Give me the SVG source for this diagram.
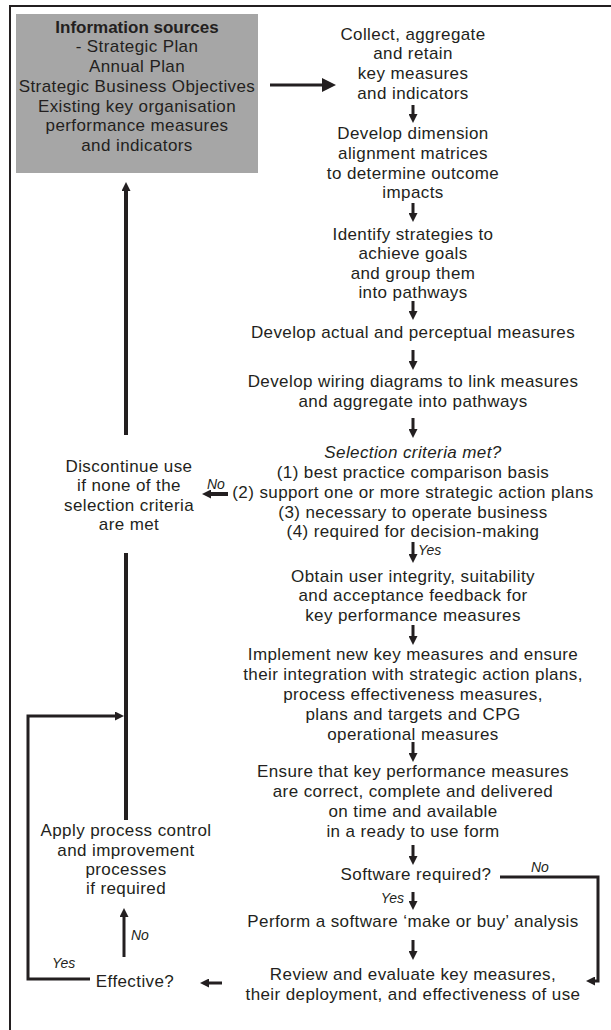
<svg xmlns="http://www.w3.org/2000/svg" width="611" height="1030" viewBox="0 0 611 1030">
<style>
text{font-family:"Liberation Sans",Arial,sans-serif;font-size:17px;letter-spacing:0.4px;fill:#231f20;text-anchor:middle}
.b{font-weight:bold;letter-spacing:0}
.i{font-style:italic}
.lbl{font-style:italic;font-size:14px;letter-spacing:0;text-anchor:start}
.lbe{font-style:italic;font-size:14px;letter-spacing:0;text-anchor:end}
.ln{fill:none;stroke:#231f20;stroke-width:3}
.th{fill:none;stroke:#231f20;stroke-width:4}
.ar{fill:none;stroke:#231f20;stroke-width:3;marker-end:url(#ah)}
</style>
<defs>
<marker id="ah" markerUnits="userSpaceOnUse" markerWidth="9" markerHeight="9" viewBox="0 0 9 9" refX="1" refY="4.5" orient="auto"><path d="M0,0 L9,4.5 L0,9 z" fill="#231f20"/></marker>
<marker id="big" markerUnits="userSpaceOnUse" markerWidth="14" markerHeight="14" viewBox="0 0 14 14" refX="1" refY="7" orient="auto"><path d="M0,0 L14,7 L0,14 z" fill="#231f20"/></marker>
</defs>
<rect width="611" height="1030" fill="#fff"/>
<path d="M10,1030 V6 H611" fill="none" stroke="#231f20" stroke-width="2"/>

<g id="sources">
<rect x="16" y="14" width="242" height="159" fill="#a6a6a6"/>
<text x="137" y="33" class="b">Information sources</text>
<text x="137" y="52">- Strategic Plan</text>
<text x="137" y="72">Annual Plan</text>
<text x="137" y="92">Strategic Business Objectives</text>
<text x="137" y="112">Existing key organisation</text>
<text x="137" y="131">performance measures</text>
<text x="137" y="151">and indicators</text>
</g>

<g id="collect">
<text x="413" y="40">Collect, aggregate</text>
<text x="413" y="59">and retain</text>
<text x="413" y="79">key measures</text>
<text x="413" y="99">and indicators</text>
</g>
<g id="dimension">
<text x="413" y="139">Develop dimension</text>
<text x="413" y="159">alignment matrices</text>
<text x="413" y="179">to determine outcome</text>
<text x="413" y="198">impacts</text>
</g>
<g id="strategies">
<text x="413" y="240">Identify strategies to</text>
<text x="413" y="259">achieve goals</text>
<text x="413" y="279">and group them</text>
<text x="413" y="298">into pathways</text>
</g>
<g id="actual">
<text x="413" y="338">Develop actual and perceptual measures</text>
</g>
<g id="wiring">
<text x="413" y="387">Develop wiring diagrams to link measures</text>
<text x="413" y="407">and aggregate into pathways</text>
</g>
<g id="selection">
<text x="413" y="458" class="i">Selection criteria met?</text>
<text x="413" y="478">(1) best practice comparison basis</text>
<text x="413" y="498">(2) support one or more strategic action plans</text>
<text x="413" y="518">(3) necessary to operate business</text>
<text x="413" y="537">(4) required for decision-making</text>
</g>
<g id="feedback">
<text x="413" y="582">Obtain user integrity, suitability</text>
<text x="413" y="601">and acceptance feedback for</text>
<text x="413" y="621">key performance measures</text>
</g>
<g id="implement">
<text x="413" y="660">Implement new key measures and ensure</text>
<text x="413" y="680">their integration with strategic action plans,</text>
<text x="413" y="700">process effectiveness measures,</text>
<text x="413" y="720">plans and targets and CPG</text>
<text x="413" y="740">operational measures</text>
</g>
<g id="ensure">
<text x="413" y="777">Ensure that key performance measures</text>
<text x="413" y="797">are correct, complete and delivered</text>
<text x="413" y="817">on time and available</text>
<text x="413" y="837">in a ready to use form</text>
</g>
<g id="software">
<text x="416" y="880">Software required?</text>
</g>
<g id="makebuy">
<text x="413" y="927">Perform a software ‘make or buy’ analysis</text>
</g>
<g id="review">
<text x="413" y="980">Review and evaluate key measures,</text>
<text x="413" y="1000">their deployment, and effectiveness of use</text>
</g>
<g id="discontinue">
<text x="129" y="472">Discontinue use</text>
<text x="129" y="491">if none of the</text>
<text x="129" y="511">selection criteria</text>
<text x="129" y="530">are met</text>
</g>
<g id="apply">
<text x="126" y="836">Apply process control</text>
<text x="126" y="856">and improvement</text>
<text x="126" y="875">processes</text>
<text x="126" y="894">if required</text>
</g>
<g id="effective">
<text x="135" y="987">Effective?</text>
</g>

<g id="connectors">
<path d="M270,85 H323" fill="none" stroke="#231f20" stroke-width="3" marker-end="url(#big)"/>
<path class="ar" d="M413,105 V115"/>
<path class="ar" d="M413,203 V214"/>
<path class="ar" d="M413,301 V312"/>
<path class="ar" d="M413,350 V362"/>
<path class="ar" d="M413,418 V430"/>
<path class="ar" d="M413,542 V555"/>
<text x="418" y="555" class="lbl">Yes</text>
<path class="ar" d="M413,625 V637"/>
<path class="ar" d="M413,742 V754"/>
<path class="ar" d="M413,845 V857"/>
<path class="ar" d="M413,892 V902"/>
<text x="404" y="903" class="lbe">Yes</text>
<path class="ar" d="M413,940 V952"/>
<path class="ln" d="M500,877 H598 V981 H594" marker-end="url(#ah)"/>
<text x="531" y="872" class="lbl">No</text>
<path class="th" d="M126,435 V190" marker-end="url(#ah)"/>
<path class="ar" d="M228,494 H210" style="stroke-width:4"/>
<text x="207" y="489" class="lbl">No</text>
<path class="th" d="M126,553 V820"/>
<path class="ar" d="M124,957 V916"/>
<text x="131" y="940" class="lbl">No</text>
<path class="ln" d="M90,979 H28 V716 H116" marker-end="url(#ah)"/>
<text x="52" y="968" class="lbl">Yes</text>
<path class="ar" d="M222,983 H208"/>
</g>
</svg>
